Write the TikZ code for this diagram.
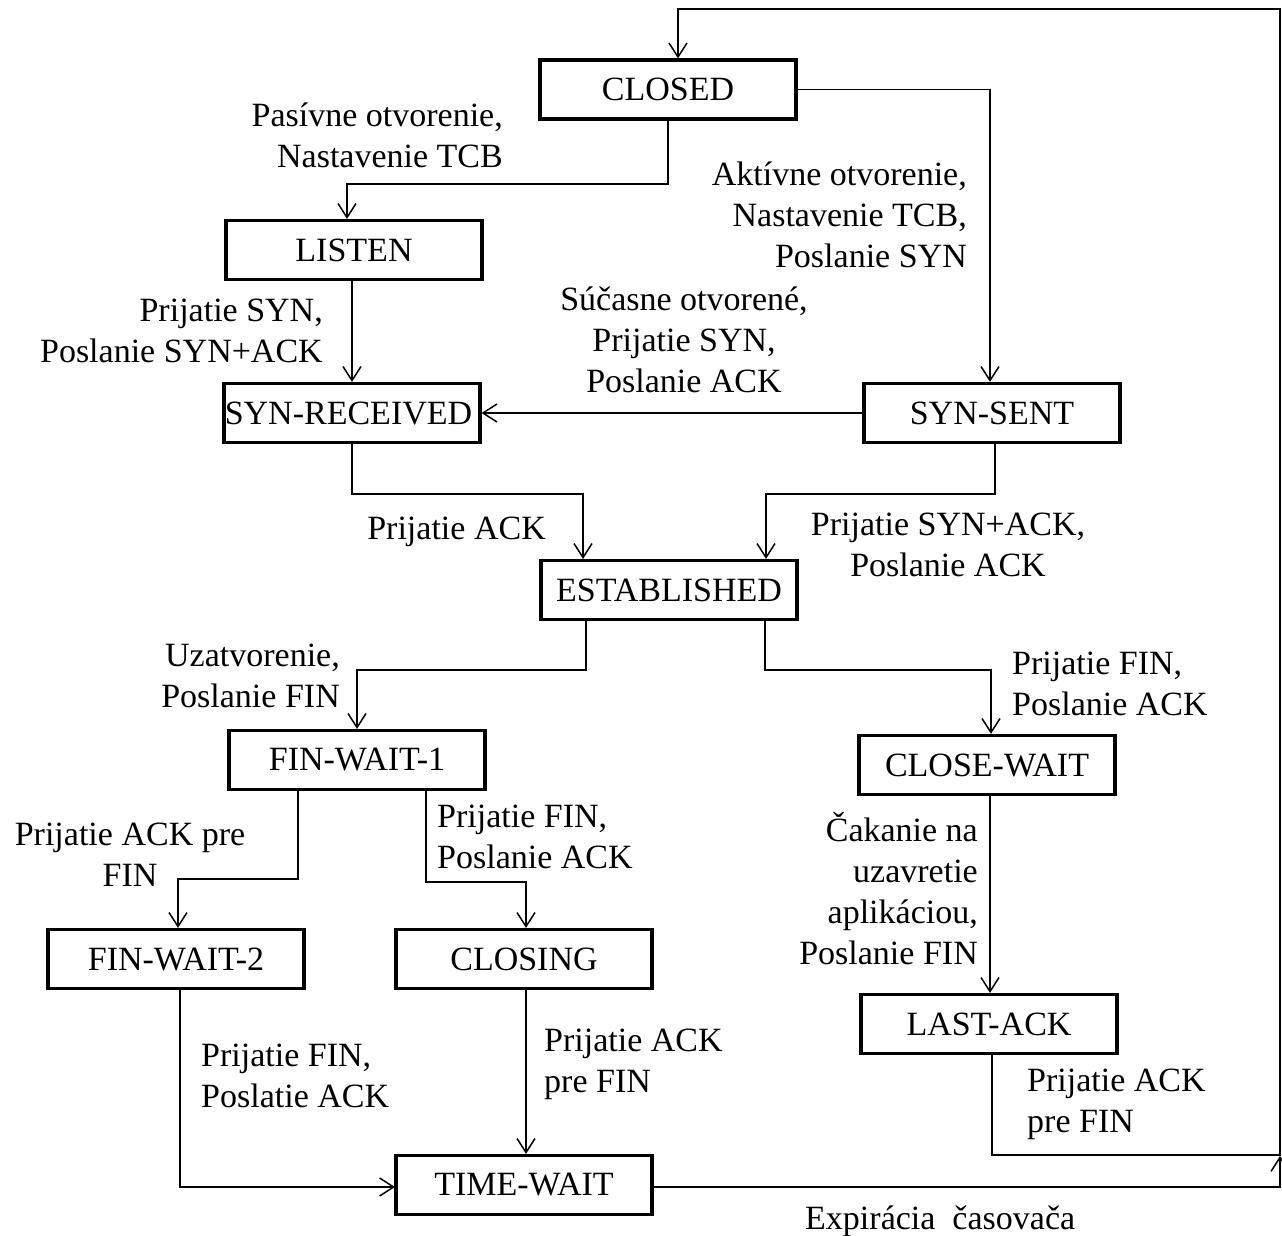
\documentclass[tikz,border=0pt]{standalone}
\usepackage{fontspec}
\setmainfont{Liberation Serif}
\usetikzlibrary{arrows.meta}

\tikzset{
  statebox/.style={draw, line width=3.2pt, minimum width=256pt, minimum height=59pt,
    inner sep=0pt, fill=white},
  conn/.style={line width=1.5pt},
  arr/.style={conn, -{Straight Barb[length=14pt,width=18pt]}},
  % labels are placed by the baseline of their first line
  lbl/.style={inner sep=0pt, yshift=32pt, execute at begin node={\rule{0pt}{32pt}}},
}

\begin{document}
\begin{tikzpicture}[x=1pt, y=-1pt, font=\fontsize{34}{41}\selectfont]
\useasboundingbox[fill=white] (0,0) rectangle (1282,1236);

% states
\node[statebox] (closed)    at (668, 89.5) {CLOSED};
\node[statebox] (listen)    at (354, 250)  {LISTEN};
\node[statebox] (synrcvd)   at (352, 413)  {\hspace*{-7pt}SYN-RECEIVED};
\node[statebox] (synsent)   at (992, 413)  {SYN-SENT};
\node[statebox] (estab)     at (669, 590)  {ESTABLISHED};
\node[statebox] (finwait1)  at (357, 760)  {FIN-WAIT-1};
\node[statebox] (closewait) at (987, 765)  {CLOSE-WAIT};
\node[statebox] (finwait2)  at (176, 959)  {FIN-WAIT-2};
\node[statebox] (closing)   at (524, 959)  {CLOSING};
\node[statebox] (lastack)   at (989, 1024) {LAST-ACK};
\node[statebox] (timewait)  at (524, 1185) {TIME-WAIT};

\coordinate (merge) at (1280, 1156);

% transitions
\draw[arr] (closed.south) |- (347,184) -- (347,0 |- listen.north);
\draw[arr] (closed.east) -| (990,0 |- synsent.north);
\draw[arr] (synsent.west) -- (synrcvd.east);
\draw[arr] (synrcvd.north |- listen.south) -- (synrcvd.north);
\draw[arr] (synrcvd.south) |- (583,494) -- (583,0 |- estab.north);
\draw[arr] (995,0 |- synsent.south) |- (766,494) -- (766,0 |- estab.north);
\draw[arr] (586,0 |- estab.south) |- (357,670) -- (finwait1.north);
\draw[arr] (765,0 |- estab.south) |- (991,670) -- (991,0 |- closewait.north);
\draw[arr] (990,0 |- closewait.south) -- (990,0 |- lastack.north);
\draw[arr] (298,0 |- finwait1.south) |- (178,879) -- (178,0 |- finwait2.north);
\draw[arr] (426,0 |- finwait1.south) |- (526,882) -- (526,0 |- closing.north);
\draw[arr] (180,0 |- finwait2.south) |- (395,1187);
\draw[arr] (526,0 |- closing.south) -- (526,0 |- timewait.north);
\draw[arr] (timewait.east |- 0,1187) -| (merge);
\draw[arr] (992,0 |- lastack.south) |- (1280,1155) -- (1280,9) -| (678,0 |- closed.north);

% transition labels
\node[lbl, anchor=north east, align=right] (l1) at (503,135) {Pasívne otvorenie,\\Nastavenie TCB};
\node[lbl, anchor=north east, align=right] (l2) at (967,194) {Aktívne otvorenie,\\Nastavenie TCB,\\Poslanie SYN};
\node[lbl, anchor=north, align=center] (l3) at (684,319) {Súčasne otvorené,\\Prijatie SYN,\\Poslanie ACK};
\node[lbl, anchor=north east, align=right] (l4) at (323,331) {Prijatie SYN,\\Poslanie SYN+ACK};
\node[lbl, anchor=north east, align=right] (l5) at (546,539) {Prijatie ACK};
\node[lbl, anchor=north, align=center] (l6) at (948,545) {Prijatie SYN+ACK,\\Poslanie ACK};
\node[lbl, anchor=north east, align=right] (l7) at (340,676) {Uzatvorenie,\\Poslanie FIN};
\node[lbl, anchor=north west, align=left] (l8) at (1012,684) {Prijatie FIN,\\Poslanie ACK};
\node[lbl, anchor=north, align=center] (l9) at (130,855) {Prijatie ACK pre\\FIN};
\node[lbl, anchor=north west, align=left] (l10) at (437,837) {Prijatie FIN,\\Poslanie ACK};
\node[lbl, anchor=north east, align=right] (l11) at (978,844) {Čakanie na\\uzavretie\\aplikáciou,\\Poslanie FIN};
\node[lbl, anchor=north west, align=left] (l12) at (201,1076) {Prijatie FIN,\\Poslatie ACK};
\node[lbl, anchor=north west, align=left] (l13) at (544,1061) {Prijatie ACK\\pre FIN};
\node[lbl, anchor=north west, align=left] (l14) at (1027,1101) {Prijatie ACK\\pre FIN};
\node[lbl, anchor=north west, align=left] (l15) at (805,1229) {Expirácia\ \ časovača};
\end{tikzpicture}
\end{document}
